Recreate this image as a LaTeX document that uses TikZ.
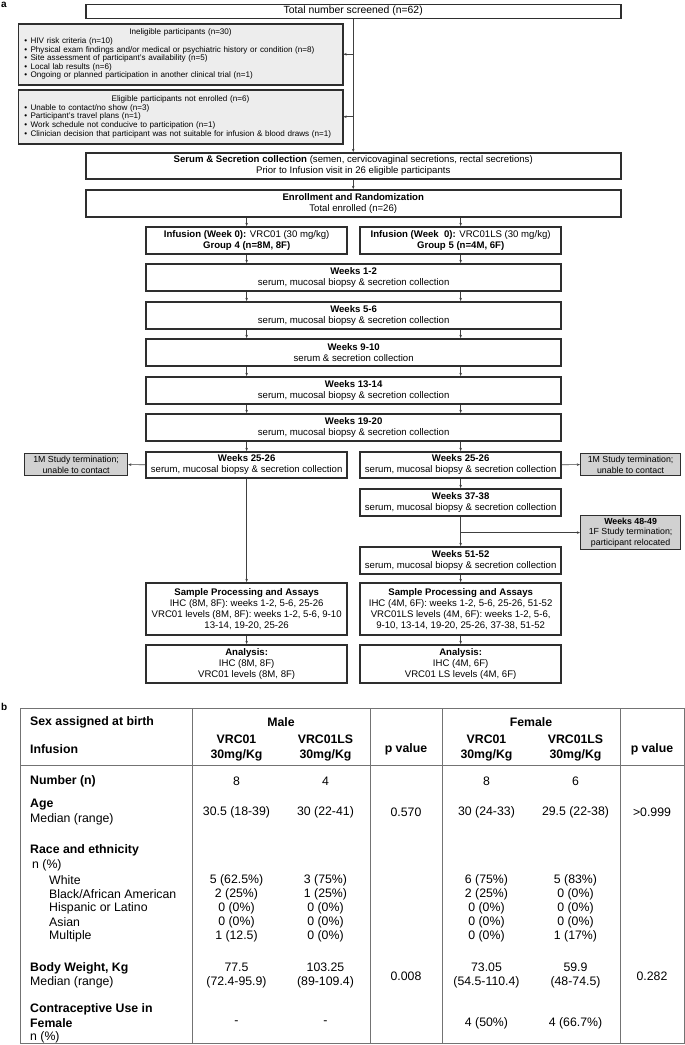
\documentclass[tikz,border=0pt]{standalone}
\usepackage{fontspec}
\setmainfont{Liberation Sans}
\usetikzlibrary{arrows.meta}
\newcommand{\myfs}[2]{\fontsize{#1}{#2}\selectfont}
\newcommand{\bul}{\hspace*{3pt}\textbullet\hspace{3.5pt}}
\definecolor{boxc}{gray}{0.18}
\definecolor{arrc}{gray}{0.25}
\definecolor{inelfill}{gray}{0.93}
\definecolor{termfill}{gray}{0.82}
\definecolor{tabc}{gray}{0.45}
\begin{document}
\begin{tikzpicture}[x=1pt,y=-1pt,
  fbox/.style={draw=boxc, line width=1.5pt, fill=white, inner sep=1pt, align=center,
    font=\myfs{9.6}{11}, anchor=north west},
  inbox/.style={draw=boxc, line width=1.5pt, fill=inelfill, inner xsep=3pt, inner ysep=1pt,
    align=left, text width=318.5pt, font=\myfs{8.1}{8.6}, anchor=north west},
  tbox/.style={draw=boxc, line width=1.2pt, fill=termfill, inner sep=1pt, align=center,
    font=\myfs{8.8}{10.5}, anchor=north west},
  arr/.style={draw=arrc, line width=0.6pt, -{Stealth[length=3.2pt,width=2.6pt]}},
  tl/.style={anchor=west, inner sep=0pt, font=\myfs{12.3}{14}},
  tc/.style={anchor=center, inner sep=0pt, align=center, font=\myfs{12.3}{14}},
  tline/.style={draw=tabc, line width=0.9pt}]
\useasboundingbox (0,0) rectangle (685,1045);

% panel labels
\node[anchor=west, inner sep=0pt, font=\bfseries\myfs{10}{12}] (la) at (1,5) {a};
\node[anchor=west, inner sep=0pt, font=\bfseries\myfs{10}{12}] (lb) at (1,707) {b};

% ---------------- flow chart ----------------
\node[fbox, minimum width=535, minimum height=14, font=\myfs{10.4}{12}] (total) at (85,3.5) {Total number screened (n=62)};

\node[inbox, minimum width=324.5, minimum height=61] (inel) at (17.5,23)
 {\makebox[318.5pt][c]{Ineligible participants (n=30)}\\
  \bul HIV risk criteria (n=10)\\
  \bul Physical exam findings and/or medical or psychiatric history or condition (n=8)\\
  \bul Site assessment of participant's availability (n=5)\\
  \bul Local lab results (n=6)\\
  \bul Ongoing or planned participation in another clinical trial (n=1)};

\node[inbox, minimum width=324.5, minimum height=54] (elig) at (17.5,89)
 {\makebox[318.5pt][c]{Eligible participants not enrolled (n=6)}\\
  \bul Unable to contact/no show (n=3)\\
  \bul Participant's travel plans (n=1)\\
  \bul Work schedule not conducive to participation (n=1)\\
  \mbox{\bul Clinician decision that participant was not suitable for infusion \& blood draws (n=1)}};

\node[fbox, minimum width=535, minimum height=26] (serum) at (85,152)
 {\textbf{Serum \& Secretion collection} (semen, cervicovaginal secretions, rectal secretions)\\
  Prior to Infusion visit in 26 eligible participants};

\node[fbox, minimum width=535, minimum height=27] (enroll) at (85,189)
 {\textbf{Enrollment and Randomization}\\Total enrolled (n=26)};

\node[fbox, minimum width=201, minimum height=27] (infL) at (145.4,226)
 {\textbf{Infusion (Week 0):} VRC01 (30 mg/kg)\\\textbf{Group 4 (n=8M, 8F)}};
\node[fbox, minimum width=201, minimum height=27] (infR) at (359.4,226)
 {\textbf{Infusion (Week\hspace{0.55em}0):} VRC01LS (30 mg/kg)\\\textbf{Group 5 (n=4M, 6F)}};

\node[fbox, minimum width=415, minimum height=27] (w12) at (145.4,263)
 {\textbf{Weeks 1-2}\\serum, mucosal biopsy \& secretion collection};
\node[fbox, minimum width=415, minimum height=27] (w56) at (145.4,301)
 {\textbf{Weeks 5-6}\\serum, mucosal biopsy \& secretion collection};
\node[fbox, minimum width=415, minimum height=27] (w910) at (145.4,338)
 {\textbf{Weeks 9-10}\\serum \& secretion collection};
\node[fbox, minimum width=415, minimum height=27] (w1314) at (145.4,376)
 {\textbf{Weeks 13-14}\\serum, mucosal biopsy \& secretion collection};
\node[fbox, minimum width=415, minimum height=27] (w1920) at (145.4,413)
 {\textbf{Weeks 19-20}\\serum, mucosal biopsy \& secretion collection};

\node[fbox, minimum width=201, minimum height=26] (w25L) at (145.4,451)
 {\textbf{Weeks 25-26}\\serum, mucosal biopsy \& secretion collection};
\node[fbox, minimum width=201, minimum height=26] (w25R) at (359.4,451)
 {\textbf{Weeks 25-26}\\serum, mucosal biopsy \& secretion collection};

\node[tbox, minimum width=103, minimum height=22] (termL) at (24,453)
 {1M Study termination;\\unable to contact};
\node[tbox, minimum width=100, minimum height=22] (termR) at (580,453)
 {1M Study termination;\\unable to contact};

\node[fbox, minimum width=201, minimum height=27] (w37) at (359.4,488)
 {\textbf{Weeks 37-38}\\serum, mucosal biopsy \& secretion collection};
\node[tbox, minimum width=100, minimum height=34] (term48) at (580,515)
 {\textbf{Weeks 48-49}\\1F Study termination;\\participant relocated};
\node[fbox, minimum width=201, minimum height=27] (w51) at (359.4,546)
 {\textbf{Weeks 51-52}\\serum, mucosal biopsy \& secretion collection};

\node[fbox, minimum width=201, minimum height=52] (sampL) at (145.4,582)
 {\textbf{Sample Processing and Assays}\\IHC (8M, 8F): weeks 1-2, 5-6, 25-26\\
  VRC01 levels (8M, 8F): weeks 1-2, 5-6, 9-10\\13-14, 19-20, 25-26};
\node[fbox, minimum width=201, minimum height=52] (sampR) at (359.4,582)
 {\textbf{Sample Processing and Assays}\\IHC (4M, 6F): weeks 1-2, 5-6, 25-26, 51-52\\
  VRC01LS levels (4M, 6F): weeks 1-2, 5-6,\\9-10, 13-14, 19-20, 25-26, 37-38, 51-52};

\node[fbox, minimum width=201, minimum height=38] (anaL) at (145.4,644)
 {\textbf{Analysis:}\\IHC (8M, 8F)\\VRC01 levels (8M, 8F)};
\node[fbox, minimum width=201, minimum height=38] (anaR) at (359.4,644)
 {\textbf{Analysis:}\\IHC (4M, 6F)\\VRC01 LS levels (4M, 6F)};

% connectors
\draw[arr] (total.south) -- (serum.north);
\draw[arr] (total.south |- inel.east) -- (inel.east);
\draw[arr] (total.south |- elig.east) -- (elig.east);
\draw[arr] (serum.south) -- (enroll.north);
\draw[arr] (infL.north |- enroll.south) -- (infL.north);
\draw[arr] (infR.north |- enroll.south) -- (infR.north);
\draw[arr] (infL.south) -- (infL.south |- w12.north);
\draw[arr] (infR.south) -- (infR.south |- w12.north);
\foreach \a/\b in {w12/w56, w56/w910, w910/w1314, w1314/w1920}{
  \draw[arr] (\a.south -| infL) -- (\b.north -| infL);
  \draw[arr] (\a.south -| infR) -- (\b.north -| infR);
}
\draw[arr] (w1920.south -| infL) -- (w25L.north);
\draw[arr] (w1920.south -| infR) -- (w25R.north);
\draw[arr] (w25L.west) -- (termL.east);
\draw[arr] (w25R.east) -- (termR.west);
\draw[arr] (w25R.south) -- (w37.north);
\draw[arr] (w37.south) -- (w51.north);
\draw[arr] (w37.south |- term48.west) -- (term48.west);
\draw[arr] (w25L.south) -- (sampL.north);
\draw[arr] (w51.south) -- (sampR.north);
\draw[arr] (sampL.south) -- (anaL.north);
\draw[arr] (sampR.south) -- (anaR.north);

% ---------------- table ----------------
\draw[tline] (20.7,708) rectangle (684,1043);
\draw[tline] (20.7,765) -- (684,765);
\foreach \xx in {192,370,442,620}{\draw[tline] (\xx,708) -- (\xx,1043);}

\node[tl] (hsex) at (30,722) {\textbf{Sex assigned at birth}};
\node[tc] (hmale) at (281,722) {\textbf{Male}};
\node[tc] (hfem) at (531,722) {\textbf{Female}};
\node[tl] (hinf) at (30,749) {\textbf{Infusion}};
\node[tc, font=\bfseries\myfs{12.3}{15}] (hm1) at (236.5,747.5) {VRC01\\30mg/Kg};
\node[tc, font=\bfseries\myfs{12.3}{15}] (hm2) at (325.5,747.5) {VRC01LS\\30mg/Kg};
\node[tc] (hp1) at (406,749) {\textbf{p value}};
\node[tc, font=\bfseries\myfs{12.3}{15}] (hf1) at (486.5,747.5) {VRC01\\30mg/Kg};
\node[tc, font=\bfseries\myfs{12.3}{15}] (hf2) at (575.5,747.5) {VRC01LS\\30mg/Kg};
\node[tc] (hp2) at (652,749) {\textbf{p value}};

\node[tl] (rnum) at (30,781) {\textbf{Number (n)}};
\node[tc] (nm1) at (236.5,781) {8};
\node[tc] (nm2) at (325.5,781) {4};
\node[tc] (nf1) at (486.5,781) {8};
\node[tc] (nf2) at (575.5,781) {6};

\node[tl] (rage) at (30,805) {\textbf{Age}};
\node[tl] (rage2) at (30,819) {Median (range)};
\node[tc] (am1) at (236.5,812) {30.5 (18-39)};
\node[tc] (am2) at (325.5,812) {30 (22-41)};
\node[tc] (ap1) at (406,812) {0.570};
\node[tc] (af1) at (486.5,812) {30 (24-33)};
\node[tc] (af2) at (575.5,812) {29.5 (22-38)};
\node[tc] (ap2) at (652,812) {>0.999};

\node[tl] (rrace) at (30,850) {\textbf{Race and ethnicity}};
\node[tl] (rrace2) at (32,865) {n (\%)};
\node[tl] (rw) at (49,880) {White};
\node[tl] (rbl) at (49,894) {Black/African American};
\node[tl] (rhi) at (49,908) {Hispanic or Latino};
\node[tl] (ras) at (49,922) {Asian};
\node[tl] (rmu) at (49,936) {Multiple};
\node[tc] (wm1) at (236.5,880) {5 (62.5\%)};
\node[tc] (wm2) at (325.5,880) {3 (75\%)};
\node[tc] (wf1) at (486.5,880) {6 (75\%)};
\node[tc] (wf2) at (575.5,880) {5 (83\%)};
\node[tc] (bm1) at (236.5,894) {2 (25\%)};
\node[tc] (bm2) at (325.5,894) {1 (25\%)};
\node[tc] (bf1) at (486.5,894) {2 (25\%)};
\node[tc] (bf2) at (575.5,894) {0 (0\%)};
\node[tc] (hm1v) at (236.5,908) {0 (0\%)};
\node[tc] (hm2v) at (325.5,908) {0 (0\%)};
\node[tc] (hf1v) at (486.5,908) {0 (0\%)};
\node[tc] (hf2v) at (575.5,908) {0 (0\%)};
\node[tc] (sm1) at (236.5,922) {0 (0\%)};
\node[tc] (sm2) at (325.5,922) {0 (0\%)};
\node[tc] (sf1) at (486.5,922) {0 (0\%)};
\node[tc] (sf2) at (575.5,922) {0 (0\%)};
\node[tc] (mm1) at (236.5,936) {1 (12.5)};
\node[tc] (mm2) at (325.5,936) {0 (0\%)};
\node[tc] (mf1) at (486.5,936) {0 (0\%)};
\node[tc] (mf2) at (575.5,936) {1 (17\%)};

\node[tl] (rbw) at (30,968) {\textbf{Body Weight, Kg}};
\node[tl] (rbw2) at (30,982) {Median (range)};
\node[tc] (bwm1) at (236.5,975.5) {77.5\\(72.4-95.9)};
\node[tc] (bwm2) at (325.5,975.5) {103.25\\(89-109.4)};
\node[tc] (bwp1) at (406,976) {0.008};
\node[tc] (bwf1) at (486.5,975.5) {73.05\\(54.5-110.4)};
\node[tc] (bwf2) at (575.5,975.5) {59.9\\(48-74.5)};
\node[tc] (bwp2) at (652,976) {0.282};

\node[tl] (rcu) at (30,1009) {\textbf{Contraceptive Use in}};
\node[tl] (rcu2) at (30,1023) {\textbf{Female}};
\node[tl] (rcu3) at (30,1037) {n (\%)};
\node[tc] (cm1) at (236.5,1023) {-};
\node[tc] (cm2) at (325.5,1023) {-};
\node[tc] (cf1) at (486.5,1023) {4 (50\%)};
\node[tc] (cf2) at (575.5,1023) {4 (66.7\%)};
\end{tikzpicture}
\end{document}
